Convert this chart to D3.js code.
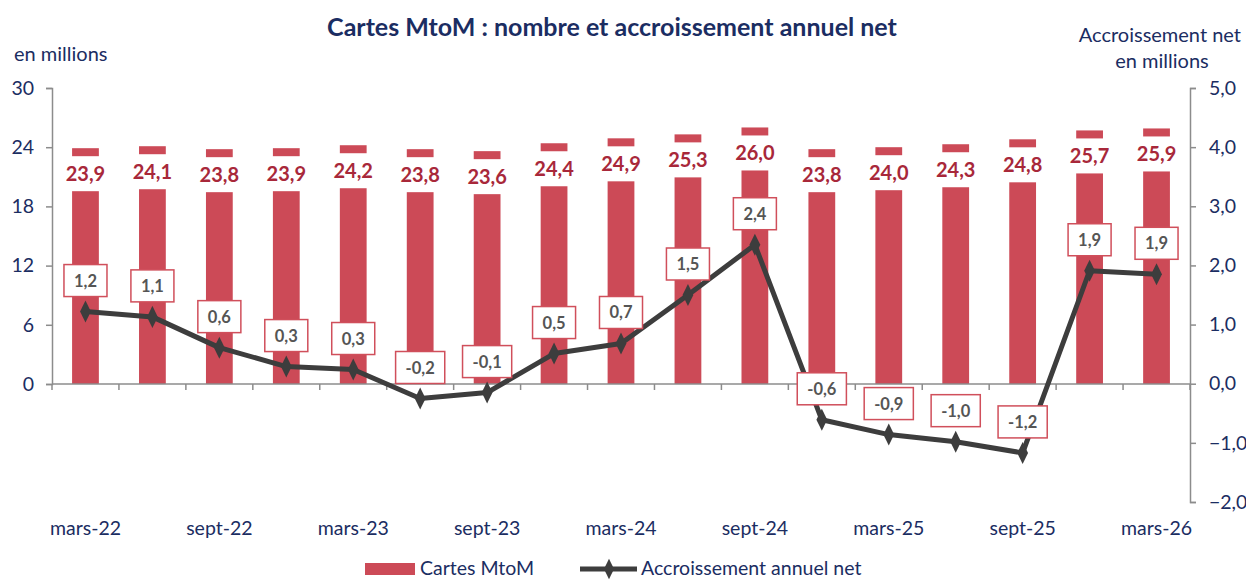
<!DOCTYPE html>
<html>
<head>
<meta charset="utf-8">
<script src="https://cdn.jsdelivr.net/npm/d3@7"></script>
<style>
  body { margin: 0; background: #fff; }
  svg { font-family: Lato, "Open Sans", sans-serif; }
</style>
</head>
<body>
<svg width="1246" height="580"></svg>
<script>
// data
const quarters = ["mars-22","juin-22","sept-22","déc-22","mars-23","juin-23","sept-23","déc-23",
                  "mars-24","juin-24","sept-24","déc-24","mars-25","juin-25","sept-25","déc-25","mars-26"];
const cartes = [23.9, 24.1, 23.8, 23.9, 24.2, 23.8, 23.6, 24.4, 24.9, 25.3, 26.0, 23.8, 24.0, 24.3, 24.8, 25.7, 25.9];
const accroissement = [1.22, 1.13, 0.61, 0.29, 0.24, -0.25, -0.15, 0.51, 0.68, 1.5, 2.35, -0.61, -0.86, -0.98, -1.17, 1.91, 1.85];
const accLabels = ["1,2","1,1","0,6","0,3","0,3","-0,2","-0,1","0,5","0,7","1,5","2,4","-0,6","-0,9","-1,0","-1,2","1,9","1,9"];
const leftTicks = [0, 6, 12, 18, 24, 30];
const rightTicks = [-2, -1, 0, 1, 2, 3, 4, 5];

const navy = "#1b2d62";
const red = "#cc4a57";
const redText = "#a8283a";
const grey = "#8c8c8c";
const comma = d => d3.format(".1f")(d).replace(".", ",");

const svg = d3.select("svg");
const plotL = 52, plotR = 1190, plotT = 88, zeroY = 384, plotB = 502;

const x = d3.scaleBand().domain(quarters).range([plotL, plotR]).paddingInner(0.6).paddingOuter(0.3);
const yL = d3.scaleLinear().domain([0, 30]).range([zeroY, plotT]);
const yR = d3.scaleLinear().domain([-2, 5]).range([plotB, plotT]);
const step = x.step();

// title + axis titles
svg.append("text").attr("x", 612).attr("y", 36).attr("text-anchor", "middle")
  .style("font-size", "25px").style("font-weight", "bold").attr("fill", navy)
  .text("Cartes MtoM : nombre et accroissement annuel net");
svg.append("text").attr("x", 14).attr("y", 61).style("font-size", "20px").attr("fill", navy).text("en millions");
svg.append("text").attr("x", 1241).attr("y", 42).attr("text-anchor", "end").style("font-size", "20px").attr("fill", navy).text("Accroissement net");
svg.append("text").attr("x", 1162).attr("y", 68).attr("text-anchor", "middle").style("font-size", "20px").attr("fill", navy).text("en millions");

// bars
svg.append("g").selectAll("rect").data(quarters).enter().append("rect")
  .attr("x", d => x(d))
  .attr("width", x.bandwidth())
  .attr("y", (d, i) => yL(cartes[i]))
  .attr("height", (d, i) => zeroY - yL(cartes[i]))
  .attr("fill", red);

// bar labels on a white band
const bl = svg.append("g").selectAll("g").data(quarters).enter().append("g");
bl.append("rect")
  .attr("x", d => x(d) - 4).attr("width", x.bandwidth() + 8)
  .attr("y", (d, i) => yL(cartes[i]) + 8).attr("height", 35)
  .attr("fill", "#fff");
bl.append("text")
  .attr("x", d => x(d) + x.bandwidth() / 2)
  .attr("y", (d, i) => yL(cartes[i]) + 33)
  .attr("text-anchor", "middle")
  .style("font-size", "20px").style("font-weight", "bold").attr("fill", redText)
  .text((d, i) => comma(cartes[i]));

// axes
const axL = svg.append("g").attr("transform", `translate(${plotL},0)`)
  .call(d3.axisLeft(yL).tickValues(leftTicks).tickSize(6).tickPadding(12));
const axR = svg.append("g").attr("transform", `translate(${plotR},0)`)
  .call(d3.axisRight(yR).tickValues(rightTicks).tickSize(6).tickPadding(13).tickFormat(comma));
[axL, axR].forEach(a => {
  a.selectAll("path, line").attr("stroke", grey).attr("stroke-width", 1.5);
  a.selectAll("text").attr("fill", navy).style("font-size", "19.5px").style("font-family", "Lato, sans-serif");
});

// category axis line with ticks between categories
const axX = svg.append("g").attr("transform", `translate(0,${zeroY})`);
axX.append("line").attr("x1", plotL).attr("x2", plotR).attr("stroke", grey).attr("stroke-width", 1.5);
axX.selectAll("line.t").data(quarters.concat(["end"])).enter().append("line")
  .attr("class", "t")
  .attr("x1", (d, i) => plotL + i * step).attr("x2", (d, i) => plotL + i * step)
  .attr("y1", 0).attr("y2", 6).attr("stroke", grey).attr("stroke-width", 1.5);

// category labels low, under the negative part
const axLbl = svg.append("g").attr("transform", `translate(0,${plotB})`)
  .call(d3.axisBottom(x).tickValues(quarters.filter((d, i) => i % 2 === 0)).tickSize(0).tickPadding(19));
axLbl.select(".domain").remove();
axLbl.selectAll("text").attr("fill", navy).style("font-size", "19.5px").style("font-family", "Lato, sans-serif");

// line
const cx = d => x(d) + x.bandwidth() / 2;
const line = d3.line().x(d => cx(d)).y((d, i) => yR(accroissement[i]));
svg.append("path").datum(quarters).attr("d", line)
  .attr("fill", "none").attr("stroke", "#3d3d3d").attr("stroke-width", 5).attr("stroke-linejoin", "round");
svg.append("g").selectAll("path").data(quarters).enter().append("path")
  .attr("d", d3.symbol().type(d3.symbolDiamond).size(140))
  .attr("transform", (d, i) => `translate(${cx(d)},${yR(accroissement[i])}) scale(0.85,1)`)
  .attr("fill", "#3d3d3d");

// line labels in red-bordered boxes
const ll = svg.append("g").selectAll("g").data(quarters).enter().append("g")
  .attr("transform", (d, i) => `translate(${cx(d)},${yR(accroissement[i]) - 31})`);
ll.append("rect").attr("fill", "#fff").attr("stroke", "#d04f5b").attr("stroke-width", 1.5);
ll.append("text").attr("text-anchor", "middle").attr("y", 6)
  .style("font-size", "16.5px").style("font-weight", "bold").attr("fill", "#555")
  .text((d, i) => accLabels[i]);
ll.each(function() {
  const g = d3.select(this);
  const w = g.select("text").node().getComputedTextLength() + 20;
  g.select("rect").attr("x", -w / 2).attr("width", w).attr("y", -16).attr("height", 32);
});

// legend
const lg = svg.append("g");
lg.append("rect").attr("x", 365).attr("y", 563).attr("width", 50).attr("height", 12).attr("fill", red);
lg.append("text").attr("x", 420).attr("y", 575).style("font-size", "19.5px").attr("fill", navy).text("Cartes MtoM");
lg.append("line").attr("x1", 580).attr("x2", 637).attr("y1", 569).attr("y2", 569)
  .attr("stroke", "#3d3d3d").attr("stroke-width", 5);
lg.append("path").attr("d", d3.symbol().type(d3.symbolDiamond).size(120))
  .attr("transform", "translate(609,569) scale(0.85,1)").attr("fill", "#3d3d3d");
lg.append("text").attr("x", 641).attr("y", 575).style("font-size", "19.5px").attr("fill", navy).text("Accroissement annuel net");
</script>
</body>
</html>
